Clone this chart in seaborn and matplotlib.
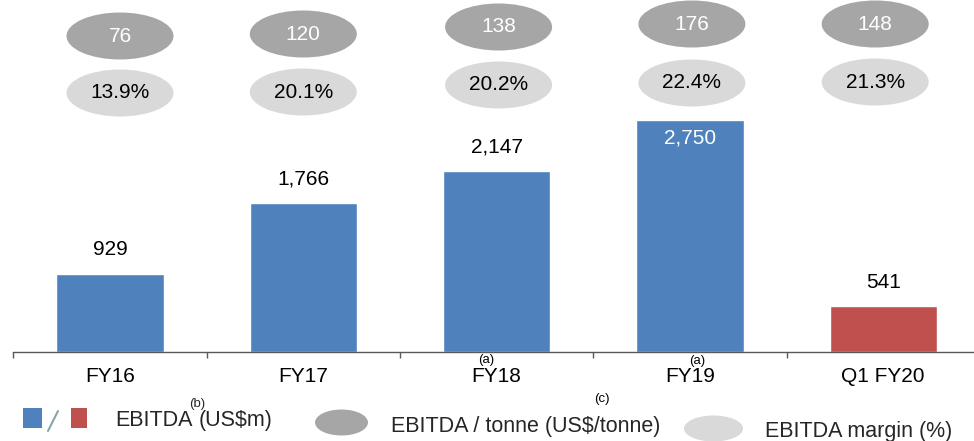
import numpy as np
import pandas as pd
import matplotlib
matplotlib.use("Agg")
import matplotlib.pyplot as plt
import seaborn as sns
from matplotlib.patches import Ellipse, Rectangle
from matplotlib.lines import Line2D
from matplotlib.transforms import blended_transform_factory

# ---------------- data ----------------
categories = ["FY16", "FY17", "FY18", "FY19", "Q1 FY20"]
ebitda = [929, 1766, 2147, 2750, 541]                 # US$m
ebitda_per_tonne = [76, 120, 138, 176, 148]            # US$/tonne
ebitda_margin = [13.9, 20.1, 20.2, 22.4, 21.3]         # %
category_notes = ["", "", "(a)", "(a)", ""]
bar_colors = ["#4F81BD", "#4F81BD", "#4F81BD", "#4F81BD", "#C0504D"]

# ---------------- layout (pixels) ----------------
W, H = 974, 441
BASE_Y = 352            # baseline pixel row
PX_PER_UNIT = 232 / 2750
dark_y_px = [36, 34, 27, 24, 24]
light_y_px = [93, 92, 85, 83, 82]
ell_dx_px = [10, 0, 2, 2, -8]
CAT_PX = 193.3

BLUE, RED = "#4F81BD", "#C0504D"
DARK, LIGHT = "#A6A6A6", "#D9D9D9"
SPINE = "#595959"

sns.set_theme(style="white")
plt.rcParams["font.family"] = ["Liberation Sans", "DejaVu Sans"]

fig = plt.figure(figsize=(W / 100, H / 100), dpi=100)
ax_w = CAT_PX * 5
ax = fig.add_axes([(110 - CAT_PX / 2) / W, 1 - BASE_Y / H, ax_w / W, BASE_Y / H])

df = pd.DataFrame({"cat": categories, "ebitda": ebitda})
sns.barplot(data=df, x="cat", y="ebitda", hue="cat", palette=bar_colors,
            legend=False, width=0.555, saturation=1, ax=ax)

ax.set_xlim(-0.5, 4.5)
ax.set_ylim(0, BASE_Y / PX_PER_UNIT)
ax.set_xlabel("")
ax.set_ylabel("")
ax.set_yticks([])
for s in ["top", "left", "right"]:
    ax.spines[s].set_visible(False)
ax.spines["bottom"].set_color(SPINE)
ax.spines["bottom"].set_linewidth(1.0)

ax.set_xticks(range(len(categories)))
ax.set_xticklabels(categories)
ax.tick_params(axis="x", which="major", length=0, pad=11, labelsize=15,
               labelcolor="black")
ax.set_xticks(np.arange(-0.5, len(categories), 1.0), minor=True)
ax.tick_params(axis="x", which="minor", bottom=True, length=4.5, width=1.0,
               color=SPINE, direction="out")

# value labels
vmax = max(ebitda)
for i, v in enumerate(ebitda):
    if v == vmax:
        ax.annotate(f"{v:,}", (i, v), xytext=(0, -18 * 0.72), textcoords="offset points",
                    ha="center", va="center", fontsize=15, color="white")
    else:
        ax.annotate(f"{v:,}", (i, v), xytext=(0, 24 * 0.72), textcoords="offset points",
                    ha="center", va="center", fontsize=15, color="black")

# ellipses above the bars
trans = blended_transform_factory(ax.transData, ax.transAxes)
ew = 107 / CAT_PX
eh = 47 / BASE_Y
for i in range(len(categories)):
    xc = i + ell_dx_px[i] / CAT_PX
    yd = (BASE_Y - dark_y_px[i]) / BASE_Y
    yl = (BASE_Y - light_y_px[i]) / BASE_Y
    ax.add_patch(Ellipse((xc, yd), ew, eh, transform=trans, facecolor=DARK,
                         edgecolor="none", clip_on=False))
    ax.add_patch(Ellipse((xc, yl), ew, eh, transform=trans, facecolor=LIGHT,
                         edgecolor="none", clip_on=False))
    ax.text(xc, yd, f"{ebitda_per_tonne[i]}", transform=trans, ha="center",
            va="center", fontsize=15, color="white")
    ax.text(xc, yl, f"{ebitda_margin[i]:.1f}%", transform=trans, ha="center",
            va="center", fontsize=15, color="black")


def fx(x):
    return x / W


def fy(y):
    return 1 - y / H


# notes over category labels
note_px = {2: (486, 360), 3: (697, 361)}
for i, n in enumerate(category_notes):
    if n:
        x, y = note_px[i]
        fig.text(fx(x), fy(y), n, ha="center", va="center", fontsize=9.5, color="black")
fig.text(fx(602), fy(399), "(c)", ha="center", va="center", fontsize=9.5, color="black")

# legend
fig.patches.append(Rectangle((fx(23), fy(428)), 19 / W, 20 / H, transform=fig.transFigure,
                             facecolor=BLUE, edgecolor="none"))
fig.lines.append(Line2D([fx(48), fx(58)], [fy(431), fy(411)], transform=fig.transFigure,
                        color="#8AA5A5", lw=1.5))
fig.patches.append(Rectangle((fx(71), fy(428)), 16 / W, 20 / H, transform=fig.transFigure,
                             facecolor=RED, edgecolor="none"))
fig.text(fx(115), fy(426), "EBITDA", ha="left", va="baseline", fontsize=15.5)
fig.text(fx(197), fy(404), "(b)", ha="center", va="center", fontsize=9.5)
fig.text(fx(199), fy(426), "(US$m)", ha="left", va="baseline", fontsize=15.5)

fig.patches.append(Ellipse((fx(341.5), fy(422.5)), 53 / W, 26 / H, transform=fig.transFigure,
                           facecolor=DARK, edgecolor="none"))
fig.text(fx(391), fy(432), "EBITDA / tonne (US$/tonne)", ha="left", va="baseline", fontsize=15.5)

fig.patches.append(Ellipse((fx(713.5), fy(428.5)), 59 / W, 26 / H, transform=fig.transFigure,
                           facecolor=LIGHT, edgecolor="none"))
fig.text(fx(765), fy(437), "EBITDA margin (%)", ha="left", va="baseline", fontsize=15.5)

fig.savefig("out.png", dpi=100)
